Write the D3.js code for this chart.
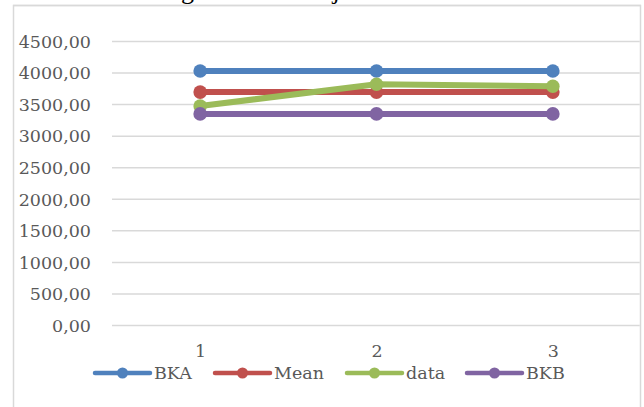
<!DOCTYPE html>
<html><head><meta charset="utf-8">
<script src="https://cdn.jsdelivr.net/npm/d3@7"></script>
<style>body{margin:0;background:#fff}svg{display:block}</style>
</head><body><svg id="c" width="644" height="407"></svg>
<script>
const categories = ["1", "2", "3"];
const seriesNames = ["BKA", "Mean", "data", "BKB"];
const BKA = [4025, 4025, 4025];
const Mean = [3690, 3690, 3690];
const dataVals = [3470, 3815, 3783];
const BKB = [3345, 3345, 3345];
const yTicks = [0, 500, 1000, 1500, 2000, 2500, 3000, 3500, 4000, 4500];
const colors = ["#4f81bd", "#c0504d", "#9bbb59", "#8064a2"];
const titleText = "Bagan Kendali Uji Profisiensi";

const series = [BKA, Mean, dataVals, BKB];
const svg = d3.select("#c");
const font = "'DejaVu Serif', serif";

// frame
svg.append("rect").attr("x", 13.5).attr("y", 5.5).attr("width", 627).attr("height", 420)
  .attr("fill", "#fff").attr("stroke", "#d9d9d9").attr("stroke-width", 1.5);

// title, cut off at the top edge as in the reference (only descenders visible)
svg.append("text").attr("x", 152).attr("y", -1.5).attr("font-family", "'Liberation Serif', serif")
  .attr("font-size", 26).attr("fill", "#000").text(titleText);
svg.append("rect").attr("x", 13).attr("y", 4.75).attr("width", 628).attr("height", 1.5).attr("fill", "#d9d9d9");

const x = d3.scalePoint().domain(categories).range([112, 641]).padding(0.5);
const y = d3.scaleLinear().domain([0, 4500]).range([325, 41]);

svg.append("clipPath").attr("id", "pc").append("rect")
  .attr("x", 0).attr("y", 0).attr("width", 639.75).attr("height", 407);

const g = svg.append("g").attr("clip-path", "url(#pc)");

// gridlines + y labels
const yAxis = d3.axisLeft(y).tickValues(yTicks).tickSize(-(641 - 112))
  .tickFormat(d => d3.format(".2f")(d).replace(".", ","));
const ya = g.append("g").attr("transform", "translate(112,0)").call(yAxis);
ya.select(".domain").remove();
ya.selectAll(".tick line").attr("stroke", "#d9d9d9").attr("stroke-width", 1.5);
ya.selectAll(".tick text").attr("x", -21).attr("font-family", font).attr("font-size", 17.5)
  .attr("fill", "#595959").attr("dy", "0.36em");

// x labels
const xAxis = d3.axisBottom(x).tickSize(0);
const xa = g.append("g").attr("transform", "translate(0,342)").call(xAxis);
xa.select(".domain").remove();
xa.selectAll(".tick text").attr("font-family", font).attr("font-size", 17.5).attr("fill", "#595959").attr("dy", "0.71em");

// lines
const line = d3.line().x((d, i) => x(categories[i])).y(d => y(d));
series.forEach((s, k) => {
  const sg = g.append("g");
  sg.append("path").datum(s).attr("d", line).attr("fill", "none")
    .attr("stroke", colors[k]).attr("stroke-width", 6).attr("stroke-linejoin", "round");
  sg.selectAll("circle").data(s).join("circle")
    .attr("cx", (d, i) => x(categories[i])).attr("cy", d => y(d)).attr("r", 6.8)
    .attr("fill", colors[k]);
});

// legend
const legX = [95, 215, 347, 467];
const lg = svg.append("g");
seriesNames.forEach((n, k) => {
  const gx = legX[k];
  lg.append("line").attr("x1", gx).attr("x2", gx + 55).attr("y1", 373).attr("y2", 373)
    .attr("stroke", colors[k]).attr("stroke-width", 4.5).attr("stroke-linecap", "round");
  lg.append("circle").attr("cx", gx + 27.5).attr("cy", 373).attr("r", 5.5).attr("fill", colors[k]);
  lg.append("text").attr("x", gx + 59).attr("y", 373).attr("dy", "0.36em")
    .attr("font-family", font).attr("font-size", 17.5).attr("fill", "#595959").text(n);
});
</script></body></html>
